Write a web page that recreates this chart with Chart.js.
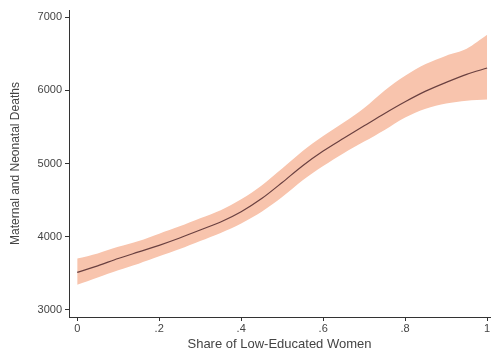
<!DOCTYPE html>
<html>
<head>
<meta charset="utf-8">
<script src="https://cdn.jsdelivr.net/npm/chart.js@4/dist/chart.umd.min.js"></script>
<style>
  html, body { margin: 0; padding: 0; background: #fff; }
  #wrap { width: 497px; height: 352px; position: relative; }
</style>
</head>
<body>
<div id="wrap"><canvas id="deathsChart"></canvas></div>
<script>
// share of low-educated women
const shares = [0, 0.05, 0.1, 0.15, 0.2, 0.25, 0.3, 0.35, 0.4, 0.45, 0.5,
                0.55, 0.6, 0.65, 0.7, 0.75, 0.8, 0.85, 0.9, 0.95, 1.0];
// fitted maternal and neonatal deaths
const fitted = [3510, 3600, 3700, 3790, 3880, 3980, 4090, 4200, 4340, 4520, 4740,
                4970, 5170, 5345, 5515, 5685, 5845, 5990, 6110, 6220, 6306];
// confidence band
const lower = [3340, 3440, 3540, 3630, 3730, 3830, 3940, 4050, 4180, 4340, 4540,
               4770, 4965, 5140, 5300, 5460, 5630, 5750, 5820, 5860, 5875];
const upper = [3700, 3770, 3860, 3940, 4040, 4140, 4250, 4360, 4510, 4700, 4930,
               5170, 5375, 5560, 5760, 6000, 6200, 6360, 6475, 6570, 6760];

const xTicks = [0, 0.2, 0.4, 0.6, 0.8, 1];
const yTicks = [3000, 4000, 5000, 6000, 7000];

const axisColor = '#333';
const labelColor = '#444';
const fontFamily = 'Liberation Sans, Arial, sans-serif';

const toPoints = arr => arr.map((v, i) => ({ x: shares[i], y: v }));

const ctx = document.getElementById('deathsChart').getContext('2d');

const chart = new Chart(ctx, {
    type: 'line',
    data: {
        datasets: [
            {
                label: 'upper',
                data: toPoints(upper),
                borderWidth: 0,
                pointRadius: 0,
                backgroundColor: '#f8c4ad',
                fill: '+1',
                tension: 0.3,
                order: 2,
            },
            {
                label: 'lower',
                data: toPoints(lower),
                borderWidth: 0,
                pointRadius: 0,
                fill: false,
                tension: 0.3,
                order: 1,
            },
            {
                label: 'fitted',
                data: toPoints(fitted),
                borderColor: '#6a4040',
                borderWidth: 1.2,
                pointRadius: 0,
                fill: false,
                tension: 0.3,
                order: 0,
            },
        ],
    },
    options: {
        responsive: true,
        maintainAspectRatio: false,
        animation: false,
        layout: { padding: { top: 10, right: 7, left: 8, bottom: 0 } },
        plugins: { legend: { display: false }, tooltip: { enabled: false } },
        scales: {
            x: {
                type: 'linear',
                min: -0.02,
                max: 1.007,
                afterBuildTicks: scale => { scale.ticks = xTicks.map(v => ({ value: v })); },
                afterFit: scale => { scale.height = 35; },
                border: { color: axisColor, width: 1 },
                grid: { drawOnChartArea: false, drawTicks: true, tickLength: 4, color: axisColor },
                ticks: {
                    color: labelColor,
                    font: { family: fontFamily, size: 11 },
                    padding: 1,
                    maxRotation: 0,
                    callback: v => v === 0 ? '0' : v === 1 ? '1' : String(v).replace(/^0/, ''),
                },
                title: {
                    display: true,
                    text: 'Share of Low-Educated Women',
                    color: labelColor,
                    font: { family: fontFamily, size: 13 },
                    padding: { top: -3, bottom: 0 },
                },
            },
            y: {
                min: 2900,
                max: 7100,
                afterBuildTicks: scale => { scale.ticks = yTicks.map(v => ({ value: v })); },
                afterFit: scale => { scale.width = 61; },
                border: { color: axisColor, width: 1 },
                grid: { drawOnChartArea: false, drawTicks: true, tickLength: 4, color: axisColor },
                ticks: {
                    color: labelColor,
                    font: { family: fontFamily, size: 11 },
                    padding: 3,
                    callback: v => String(v),
                },
                title: {
                    display: true,
                    text: 'Maternal and Neonatal Deaths',
                    color: labelColor,
                    font: { family: fontFamily, size: 12 },
                    padding: { top: 0, bottom: 4 },
                },
            },
        },
    },
});
</script>
</body>
</html>
